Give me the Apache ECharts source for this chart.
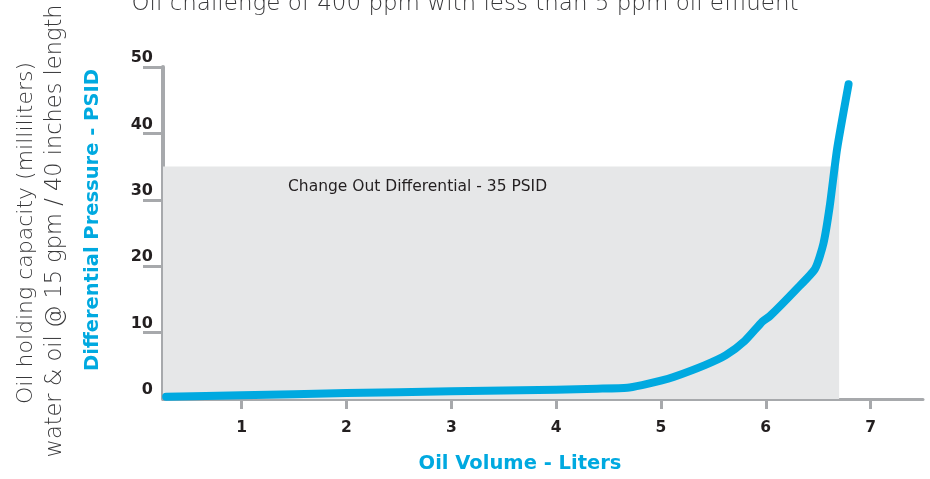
<!DOCTYPE html>
<html>
<head>
<meta charset="utf-8">
<script src="https://cdn.jsdelivr.net/npm/echarts@6/dist/echarts.min.js"></script>
<style>
  html, body { margin: 0; padding: 0; background: #ffffff; }
  #chart { width: 930px; height: 479px; }
</style>
</head>
<body>
<div id="chart"></div>
<script>
// ---- data ----
const titleText = 'Oil challenge of 400 ppm with less than 5 ppm oil effluent';
const sideLine1 = 'Oil holding capacity (milliliters)';
const sideLine2 = 'water & oil @ 15 gpm / 40 inches length';
const yAxisName = 'Differential Pressure - PSID';
const xAxisName = 'Oil Volume - Liters';
const changeOutLabel = 'Change Out Differential - 35 PSID';

const xTickLabels = [1, 2, 3, 4, 5, 6, 7];
const yTickLabels = [0, 10, 20, 30, 40, 50];
const xMin = 0.25;
const xMax = 7.5;
const yMin = 0;
const yMax = 50;

const changeOutPressure = 35;   // PSID
const changeOutVolume = 6.7;    // liters where the shaded band ends

const oilVolume = [0.28, 1, 2, 3, 4, 4.39, 4.68, 4.82, 5.0, 5.12, 5.42, 5.62, 5.8, 5.97, 6.04, 6.29, 6.47, 6.55, 6.61, 6.68, 6.79];
const diffPressure = [0.35, 0.55, 0.9, 1.15, 1.4, 1.55, 1.7, 2.1, 2.75, 3.3, 5.1, 6.6, 8.75, 11.7, 12.5, 16.5, 19.6, 23.4, 29, 37.6, 47.4];

// ---- chart ----
const FONT = '"DejaVu Sans", "Open Sans", sans-serif';
const BLUE = '#00a9e0';
const AXIS_GRAY = '#a7a9ac';
const DARK = '#231f20';
const SOFT = '#38383a';

const chart = echarts.init(document.getElementById('chart'), null, { renderer: 'canvas' });

const curve = oilVolume.map((v, i) => [v, diffPressure[i]]);

chart.setOption({
  animation: false,
  backgroundColor: '#ffffff',
  title: {
    text: titleText,
    left: 'center',
    top: -12,
    textStyle: { fontFamily: FONT, fontWeight: 200, fontSize: 23, color: SOFT }
  },
  graphic: [
    {
      type: 'text',
      x: 26, y: 233,
      rotation: Math.PI / 2,
      style: {
        text: sideLine1,
        font: '200 22px ' + FONT,
        fill: SOFT,
        align: 'center',
        verticalAlign: 'middle'
      }
    },
    {
      type: 'text',
      x: 55, y: 231,
      rotation: Math.PI / 2,
      style: {
        text: sideLine2,
        font: '200 22.5px ' + FONT,
        fill: SOFT,
        align: 'center',
        verticalAlign: 'middle'
      }
    }
  ],
  grid: { left: 163, right: 7, top: 67, bottom: 73, containLabel: false },
  xAxis: {
    type: 'value',
    min: xMin,
    max: xMax,
    name: xAxisName,
    nameLocation: 'middle',
    nameGap: 55,
    nameTextStyle: { fontFamily: FONT, fontWeight: 'bold', fontSize: 19.5, color: BLUE, padding: [0, 46, 0, 0] },
    splitLine: { show: false },
    axisLine: { show: true, onZero: false, lineStyle: { color: AXIS_GRAY, width: 3 } },
    axisTick: { show: true, customValues: xTickLabels, length: 10, lineStyle: { color: AXIS_GRAY, width: 3 } },
    axisLabel: { customValues: xTickLabels, margin: 21, fontFamily: FONT, fontWeight: 'bold', fontSize: 15.5, color: DARK }
  },
  yAxis: {
    type: 'value',
    min: yMin,
    max: yMax,
    interval: 10,
    name: yAxisName,
    nameLocation: 'middle',
    nameGap: 60,
    nameTextStyle: { fontFamily: FONT, fontWeight: 'bold', fontSize: 19.5, color: BLUE, padding: [0, 0, 0, 26] },
    splitLine: { show: false },
    axisLine: { show: true, onZero: false, lineStyle: { color: AXIS_GRAY, width: 4 } },
    axisTick: { show: true, customValues: yTickLabels.slice(1), length: 20, lineStyle: { color: AXIS_GRAY, width: 3 } },
    axisLabel: {
      customValues: yTickLabels,
      margin: 10,
      verticalAlign: 'bottom',
      padding: [0, 0, 1, 0],
      fontFamily: FONT, fontWeight: 'bold', fontSize: 16, color: DARK
    }
  },
  series: [
    {
      type: 'line',
      data: curve,
      showSymbol: false,
      smooth: 0.2,
      lineStyle: { color: BLUE, width: 8, cap: 'round', join: 'round' },
      z: 3,
      markArea: {
        silent: true,
        itemStyle: { color: '#e6e7e8' },
        label: {
          show: true,
          position: [125, 12],
          fontFamily: FONT,
          fontSize: 15.5,
          color: DARK
        },
        data: [[
          { name: changeOutLabel, xAxis: xMin, yAxis: yMin },
          { xAxis: changeOutVolume, yAxis: changeOutPressure }
        ]]
      }
    }
  ]
});
</script>
</body>
</html>
